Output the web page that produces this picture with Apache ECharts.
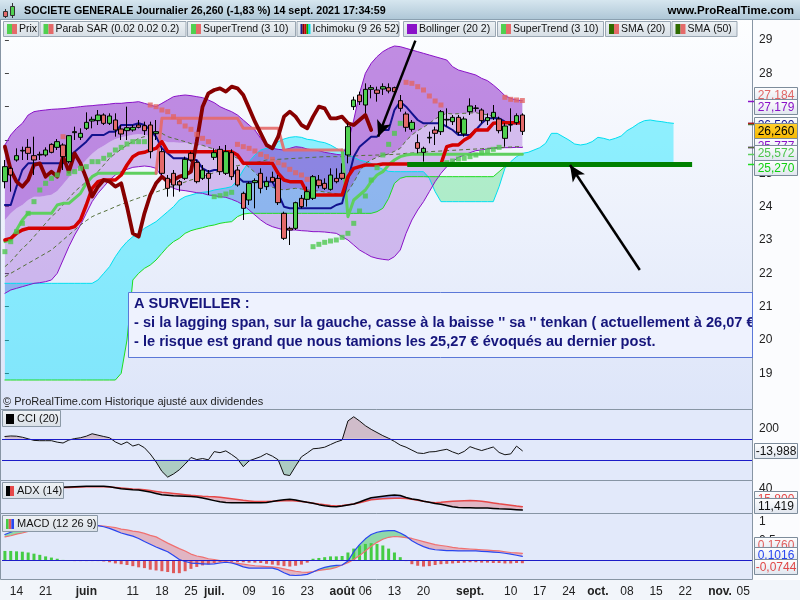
<!DOCTYPE html>
<html><head><meta charset="utf-8"><title>SOCIETE GENERALE</title>
<script src="https://cdn.jsdelivr.net/npm/echarts/dist/echarts.min.js"></script>
<style>html,body{margin:0;padding:0;background:#fff;}#chart{width:800px;height:600px;}</style>
</head><body><div id="chart"></div>
<script>
// ---------------- axis categories : trading days 12 May 2021 -> 8 Nov 2021 ----------------
const N_DAYS = 129;
const categories = [];
(function(){const d=new Date(Date.UTC(2021,4,12));while(categories.length<N_DAYS){const w=d.getUTCDay();if(w!==0&&w!==6)categories.push(d.toISOString().slice(0,10));d.setUTCDate(d.getUTCDate()+1);}})();
const tickIndex = [2,7,14,22,27,32,36,42,47,52,58,62,67,72,80,87,92,97,102,107,112,117,123,127];
const tickText  = ['14','21','juin','11','18','25','juil.','09','16','23','août','06','13','20','sept.','10','17','24','oct.','08','15','22','nov.','05'];
const tickBold  = ['juin','juil.','août','sept.','oct.','nov.'];

// ---------------- price candles [open, close, low, high] ----------------
const candles = [
[24.75,25.2,24.55,25.4],[25.15,24.95,24.45,25.2],[25.4,25.53,25.35,25.75],[25.67,25.69,25.4,25.8],[25.78,25.6,25.4,26.03],
[25.53,25.4,24.95,26.1],[25.55,25.57,25.4,25.65],[25.55,25.7,25.5,25.78],[25.87,25.63,25.6,25.9],[25.78,25.95,25.7,26.03],
[25.85,25.5,25.1,25.9],[25.35,26.13,25.3,26.15],[26.22,26.25,26.0,26.4],[26.08,26.2,26.0,26.35],[26.35,26.53,26.3,26.83],
[26.57,26.62,26.35,26.7],[26.58,26.75,26.45,26.9],[26.75,26.5,26.45,26.8],[26.5,26.72,26.45,26.8],[26.6,26.3,26.1,26.8],
[26.33,26.18,26.0,26.45],[26.28,26.37,26.0,27.0],[26.3,26.38,26.25,26.45],[26.45,26.38,26.35,26.6],[26.43,26.28,26.15,26.55],
[26.45,25.65,25.45,26.55],[26.2,26.25,26.0,26.6],[25.65,25.0,24.95,25.75],[24.85,24.55,24.3,24.95],[25.0,24.65,24.3,25.1],
[24.75,24.65,24.45,24.8],[24.85,25.42,24.8,25.5],[25.6,25.4,25.35,25.65],[25.33,24.75,24.7,25.4],[24.85,25.1,24.8,25.25],
[25.0,24.85,24.35,25.1],[25.48,25.62,25.4,25.75],[25.72,25.05,24.95,25.82],[25.0,25.65,24.95,25.85],[25.62,24.9,24.8,25.72],
[25.1,24.65,24.6,25.2],[24.4,23.95,23.6,24.45],[24.2,24.7,24.05,24.75],[24.72,24.78,23.95,24.85],[25.0,24.55,24.4,25.15],
[24.6,24.75,24.5,24.9],[24.88,24.75,24.7,25.05],[24.85,24.12,24.05,24.95],[23.8,23.05,23.0,23.85],[23.35,23.3,22.85,23.4],
[23.35,24.12,23.3,24.15],[24.25,24.0,23.95,24.35],[24.22,24.45,24.0,24.6],[24.25,24.9,24.2,24.95],[24.8,24.63,24.55,24.95],
[24.7,24.55,24.5,24.85],[24.52,24.95,24.48,25.15],[24.85,24.75,24.7,25.15],[25.0,24.85,24.8,25.3],[25.55,26.4,25.3,26.5],
[27.0,27.2,26.9,27.3],[27.35,27.15,27.05,27.45],[27.05,27.52,26.8,27.7],[27.52,27.57,27.25,27.65],[27.5,27.4,27.15,27.6],
[27.53,27.6,27.35,27.7],[27.57,27.47,27.4,27.7],[27.57,27.45,27.4,27.6],[27.18,26.95,26.85,27.35],[26.78,26.38,26.25,26.85],
[26.32,26.53,26.25,26.6],[25.92,25.75,25.6,26.17],[25.63,25.75,25.35,25.8],[26.06,26.08,25.9,26.25],[26.3,26.2,25.85,26.4],
[26.25,26.85,26.15,26.9],[26.6,26.62,26.4,26.95],[26.55,26.68,26.45,26.75],[26.68,26.23,26.15,26.75],[26.18,26.63,26.1,26.7],
[26.85,27.02,26.75,27.25],[26.95,26.96,26.85,27.05],[26.9,26.58,26.5,26.95],[26.58,26.67,26.45,26.8],[26.68,26.83,26.6,27.05],
[26.63,26.28,26.2,26.7],[26.05,26.42,25.8,26.5],[26.45,26.46,26.25,26.95],[26.52,26.73,26.45,26.8],[26.75,26.26,26.15,26.8]
];

function run(v,n){return Array(n).fill(v);}

// ---------------- Ichimoku ----------------
const tenkan = [23.0,23.05,23.2,23.3,23.35,23.35,23.35,23.35,23.35,23.35,23.35,23.35,23.4,23.6,24.05,24.55,24.75,24.8,24.8,24.8,
24.95,25.25,25.5,25.6,25.63,25.7,25.75,25.95,25.65,25.65,25.65,25.65,25.65,25.65,25.65,25.65,25.65,25.65,25.65,25.65,
25.55,25.3,25.3,25.3,25.3,25.3,25.3,25.0,24.8,24.75,24.75,24.75,24.4,24.35,24.35,24.35,24.35,24.35,24.35,24.9,
25.15,25.2,25.25,25.25,25.25,25.28,25.28,25.28,25.28,25.28,25.28,25.28,25.28,25.28,25.28,25.28,25.8,25.85,25.85,26.0,
26.1,26.3,26.3,26.3,26.5,26.52,26.52,26.52,26.52,26.52];
const kijun = [24.05,24.05,24.6,25.1,25.3,25.3,25.3,25.3,25.3,25.3,25.3,25.5,25.65,25.8,25.95,26.15,26.15,26.15,26.25,26.25,
26.45,26.45,26.45,26.5,26.45,26.3,26.1,25.75,25.6,25.45,25.45,25.45,25.4,25.4,25.15,25.05,25.1,25.1,25.1,25.15,
24.9,24.75,24.75,24.75,24.75,24.75,24.75,24.4,24.0,23.95,23.95,23.95,23.95,23.95,23.95,23.95,23.95,24.05,24.1,24.8,
25.5,25.8,25.95,26.1,26.1,26.3,26.3,26.9,27.15,27.0,26.8,26.6,26.5,26.5,26.5,26.5,26.4,26.3,26.15,26.15,
26.15,26.3,26.5,26.65,26.65,26.65,26.55,26.5,26.5,26.5];
const chikou = [25.8,25.1,24.75,24.6,24.8,25.25,25.3,24.9,25.05,24.9,25.5,25.05,25.6,25.3,24.85,24.3,24.6,24.8,24.75,24.6,
24.7,24.0,23.2,23.1,23.8,24.35,24.7,24.9,24.75,24.8,24.9,24.95,25.05,25.95,27.0,27.4,27.5,27.55,27.45,27.6,
27.55,27.35,26.95,26.55,26.2,25.85,25.75,26.1,26.7,26.85,26.7,26.45,26.35,26.7,27.0,26.95,26.65,26.65,26.7,26.5,
26.45,26.6,26.75,26.3];
const senkouA = [].concat(run(21.7,16),[21.8,22.0,22.2,22.5,22.75,22.95,23.1,23.2,23.35,23.45,23.55,23.7,23.85,24.0,24.2,24.3,24.35,24.4,24.43,24.45,
24.5,24.53,24.56,24.6,24.8,25.1,25.35,25.55,25.7,25.75,25.8,25.95,26.03,26.08,26.1,26.08,26.02,26.0,25.95,25.92,
25.85,25.75,25.65,25.55,25.48,25.4,25.35,25.3,25.2,25.12,25.06],run(25.05,6),[24.85,24.45,24.15],run(24.15,9),
[24.6,25.15,25.35,25.5,25.6,25.63,25.7,25.77,25.9,26.2,26.2,26.1,26.0,25.88,25.85,25.88,25.95,26.08,26.05,26.0,
26.05,26.12,26.28,26.38,26.5,26.58,26.6,26.57,26.55,26.52,26.5]);
const senkouB = [].concat(run(18.8,20),[19.0,20.0,21.8,22.0,22.15,22.25,22.4,22.6,22.8,22.95,23.05,23.2,23.28,23.33,23.37,23.42,23.45,23.5,23.53,23.55,23.7,23.78],
run(23.8,22),[23.85,23.95,24.25,24.7,24.85],run(24.9,16),[25.05,25.2],run(25.3,29));

// ---------------- Bollinger (20 2), SMA ----------------
const bbUpper = [25.85,26.15,26.35,26.5,26.75,26.85,26.88,26.9,26.92,26.93,26.94,26.96,26.98,27.0,27.02,27.03,27.05,27.06,27.08,27.1,
27.1,27.12,27.13,27.15,27.1,27.05,27.0,27.1,27.2,27.3,27.33,27.35,27.33,27.3,27.27,27.2,27.12,27.0,26.92,26.85,
26.75,26.6,26.45,26.3,26.05,25.82,25.75,25.72,25.7,25.75,25.8,25.78,25.73,25.7,25.68,25.63,25.6,25.57,25.55,25.9,
26.6,27.4,28.0,28.3,28.5,28.65,28.75,28.82,28.8,28.75,28.7,28.65,28.6,28.55,28.5,28.45,28.4,28.2,28.1,28.05,
28.0,27.95,27.85,27.78,27.65,27.5,27.33,27.25,27.2,27.179];
const bbLower = [21.4,21.5,21.55,21.6,21.65,21.7,21.72,21.75,21.8,22.0,22.4,22.8,23.15,23.45,23.8,24.15,24.4,24.6,24.8,24.95,
25.05,25.12,25.18,25.2,25.22,25.2,25.15,24.9,24.65,24.55,24.5,24.48,24.45,24.42,24.4,24.35,24.33,24.3,24.28,24.22,
24.15,24.05,23.9,23.75,23.6,23.48,23.4,23.35,23.3,23.3,23.3,23.28,23.27,23.25,23.25,23.24,23.22,23.2,23.1,23.0,
22.85,22.7,22.6,22.5,22.45,22.42,22.4,22.5,22.7,23.2,23.6,23.9,24.15,24.45,24.75,25.0,25.2,25.35,25.48,25.55,
25.62,25.68,25.7,25.73,25.75,25.76,25.77,25.77,25.78,25.777];
const bbMid = [23.6,23.8,23.95,24.05,24.2,24.3,24.3,24.33,24.36,24.47,24.67,24.88,25.07,25.23,25.41,25.59,25.73,25.83,25.94,26.03,
26.08,26.12,26.16,26.18,26.16,26.13,26.08,26.0,25.93,25.93,25.92,25.92,25.89,25.86,25.84,25.78,25.73,25.65,25.6,25.54,
25.45,25.33,25.18,25.03,24.83,24.65,24.58,24.54,24.5,24.53,24.55,24.53,24.5,24.48,24.47,24.44,24.41,24.39,24.33,24.45,
24.73,25.05,25.3,25.4,25.48,25.54,25.58,25.66,25.75,25.98,26.15,26.28,26.38,26.5,26.63,26.73,26.8,26.78,26.79,26.8,
26.81,26.82,26.78,26.76,26.7,26.63,26.55,26.51,26.49,26.48];
const sma20 = [22.2,22.35,22.55,22.75,22.9,23.1,23.3,23.5,23.7,23.85,24.05,24.25,24.45,24.6,24.75,24.9,25.05,25.25,25.45,25.6,
25.72,25.85,25.95,26.05,26.1,26.15,26.18,26.2,26.1,26.05,26.0,25.95,25.89,25.86,25.84,25.78,25.73,25.65,25.6,25.54,
25.45,25.33,25.18,25.03,24.83,24.65,24.58,24.54,24.5,24.53,24.55,24.53,24.5,24.48,24.47,24.44,24.41,24.39,24.33,24.45,
24.73,25.05,25.3,25.4,25.48,25.54,25.58,25.66,25.75,25.98,26.15,26.28,26.38,26.5,26.63,26.73,26.8,26.78,26.79,26.8,
26.81,26.82,26.78,26.76,26.7,26.63,26.55,26.51,26.49,26.48];
const sma50 = [21.9,22.0,22.1,22.2,22.3,22.4,22.5,22.6,22.7,22.85,23.0,23.15,23.3,23.45,23.58,23.7,23.78,23.85,23.92,24.0,
24.07,24.13,24.2,24.26,24.32,24.38,24.44,24.5,24.56,24.62,24.68,24.74,24.8,24.85,24.9,24.96,25.02,25.08,25.14,25.2,
25.23,25.26,25.29,25.32,25.36,25.4,25.41,25.42,25.43,25.44,25.45,25.46,25.47,25.48,25.49,25.5,25.5,25.5,25.5,25.51,
25.52,25.53,25.54,25.54,25.55,25.55,25.56,25.57,25.58,25.6,25.61,25.62,25.63,25.65,25.66,25.67,25.68,25.69,25.7,25.71,
25.72,25.73,25.74,25.75,25.76,25.77,25.78,25.79,25.8,25.8];

// ---------------- Parabolic SAR & SuperTrend ----------------
const sar = [22.65,22.95,23.25,23.5,23.8,24.15,24.5,24.7,24.85,24.95,26.1,25.0,25.05,25.15,25.2,25.35,25.35,25.45,25.55,25.7,
25.78,25.88,25.95,25.95,25.95,27.05,27.0,26.9,26.85,26.7,26.55,26.42,26.32,26.17,26.05,25.95,24.3,24.33,24.38,24.43,
25.87,25.8,25.75,25.67,25.57,25.5,25.42,25.32,25.25,25.12,25.02,24.95,24.82,22.8,22.87,22.93,22.97,23.0,23.08,23.2,
23.5,23.87,24.32,24.8,25.17,25.55,25.87,26.2,26.5,27.73,27.7,27.6,27.5,27.32,27.17,27.05,25.32,25.37,25.43,25.45,
25.5,25.55,25.62,25.67,25.72,25.78,27.28,27.22,27.2,27.184];
const sarSide = 'GGGGGGGGGG'+'R'+'GGGGGGGGGGGGGG'+'RRRRRRRRRRR'+'GGGG'+'RRRRRRRRRRRRR'+'GGGGGGGGGGGGGGGG'+'RRRRRRR'+'GGGGGGGGGG'+'RRRR';
const stGreen = [].concat([22.95,23.0,23.3,23.6,23.8,23.8,23.8,23.8,23.8,24.05,24.1,24.1,24.25,24.4,24.7,24.9],run(25.0,11),run(null,31),
[25.7,23.7,24.2,24.35,24.5,24.75,24.95,25.05,25.25,25.4,25.5,25.55],run(25.572,20));
const stRed = [].concat(run(null,26),[25.0],run(26.65,14),run(26.35,7),run(25.7,11),run(null,31));

// ---------------- drawings ----------------
const supportLevel = 25.27;
const supportSpan = [69.2, 118.2];
const arrowDown = [[70.6,28.98],[64.2,26.1]];
const arrowUp = [[109.2,22.1],[97.2,25.25]];

// ---------------- CCI (20) ----------------
const cci = [122,127,125,115,100,85,82,82,82,68,60,88,102,110,125,148,135,122,110,70,
45,70,31,47,15,-45,-120,-210,-265,-235,-195,-140,-78,-98,-88,-100,-22,-32,-15,-50,
-90,-165,-110,-90,-70,-40,-65,-100,-240,-250,-160,-72,-35,5,10,20,45,70,88,270,
310,270,225,190,160,130,105,75,40,20,-8,-35,-40,-25,-22,-10,0,-25,-45,-20,
25,5,-12,5,22,-30,-52,-44,30,-13.988];

// ---------------- ADX (14) ----------------
const adxBlack = [39,39.3,39.5,39.7,40,40.3,40.6,40.9,41.1,41.3,41.5,41.8,42.2,42.5,42.7,42.8,42.8,42.6,42.0,40.8,
39.5,38.8,38.2,37.8,36.5,35,33.2,31.5,30.8,30.2,29.8,29.4,29.1,28.6,27.2,25.5,23.8,22.2,21.4,21.1,
21.1,21.1,21.1,21.1,21.1,21.3,22.5,24,25,25.5,24.5,23,21.5,20.3,18.5,17,16,15.8,16.8,18,
19.3,22,25,27.5,28.5,29.5,30.5,31.2,30.5,28,26,24.8,23,21.5,20,19,17.5,15.8,14.8,14.4,
14.3,14.2,14.1,14,13.5,13,12.7,12.3,11.9,11.419];
const adxRed = [39.5,39.8,40,40.2,40.4,40.5,40.6,40.7,40.8,40.9,41,41.2,41.5,41.7,41.9,42,42.2,42.1,41.7,41.1,
40.5,39.8,39.2,38.8,38,37,35.8,34.7,34,33.2,32.4,31.6,30.8,30.2,29.6,29.2,29,28.2,27.2,26.2,
25.2,24.2,23.4,22.7,22.5,22.6,23,23.4,23.7,23.8,23.3,22.5,21.5,20.4,19.3,18.4,17.4,16.8,17.5,18.5,
19.3,21,23,24.8,25.5,26.2,26.7,26.9,26.9,26.5,25.5,24.3,23,21.8,21.1,21.5,22.2,22.8,23.3,23.7,
23.8,23.6,23,22,20.8,19.6,18.6,17.6,16.6,15.8];

// ---------------- MACD (12 26 9) ----------------
const macd = [0.66,0.72,0.77,0.82,0.86,0.9,0.93,0.95,0.96,0.96,0.95,0.94,0.93,0.92,0.91,0.9,0.89,0.86,0.82,0.76,
0.7,0.66,0.62,0.56,0.48,0.41,0.34,0.28,0.22,0.12,0.02,-0.03,-0.07,-0.08,-0.09,-0.1,-0.09,-0.07,-0.05,-0.07,
-0.11,-0.17,-0.2,-0.2,-0.2,-0.2,-0.2,-0.24,-0.32,-0.38,-0.39,-0.38,-0.36,-0.3,-0.23,-0.18,-0.15,-0.13,-0.12,-0.02,
0.22,0.4,0.55,0.66,0.72,0.75,0.76,0.76,0.7,0.62,0.5,0.42,0.35,0.3,0.27,0.26,0.25,0.25,0.24,0.24,
0.24,0.24,0.23,0.22,0.21,0.2,0.18,0.16,0.13,0.1016];
const macdSignal = [0.6,0.63,0.67,0.7,0.74,0.77,0.8,0.83,0.85,0.87,0.89,0.9,0.9,0.9,0.9,0.9,0.89,0.88,0.86,0.84,
0.8,0.78,0.75,0.73,0.69,0.64,0.6,0.52,0.44,0.37,0.3,0.24,0.16,0.11,0.08,0.04,0.02,-0.01,-0.03,-0.06,
-0.08,-0.1,-0.12,-0.14,-0.15,-0.16,-0.17,-0.19,-0.22,-0.25,-0.28,-0.3,-0.31,-0.29,-0.26,-0.24,-0.22,-0.18,-0.12,-0.06,
0.02,0.12,0.24,0.36,0.46,0.54,0.59,0.61,0.6,0.58,0.56,0.52,0.48,0.44,0.4,0.38,0.36,0.33,0.31,0.3,
0.29,0.28,0.27,0.26,0.25,0.24,0.22,0.2,0.19,0.176];
const macdHist = [0.24,0.24,0.23,0.22,0.2,0.17,0.14,0.1,0.07,0.04,0.01,-0.01,-0.02,-0.02,-0.02,-0.02,-0.02,-0.03,-0.05,-0.08,
-0.1,-0.12,-0.15,-0.18,-0.2,-0.24,-0.26,-0.28,-0.3,-0.33,-0.33,-0.28,-0.22,-0.17,-0.13,-0.1,-0.07,-0.05,-0.04,-0.04,
-0.05,-0.05,-0.06,-0.06,-0.07,-0.09,-0.11,-0.13,-0.15,-0.16,-0.14,-0.11,-0.06,0.04,0.06,0.08,0.1,0.1,0.11,0.2,
0.3,0.38,0.42,0.44,0.42,0.38,0.3,0.2,0.08,-0.02,-0.1,-0.14,-0.16,-0.15,-0.12,-0.1,-0.09,-0.08,-0.07,-0.06,
-0.05,-0.05,-0.06,-0.06,-0.07,-0.07,-0.08,-0.08,-0.07,-0.0744];

// ---------------- chart ----------------
const FONT = '"Liberation Sans", Arial, sans-serif';
const chart = echarts.init(document.getElementById('chart'), null, {renderer:'canvas', width:800, height:600});
const GL = 2, GW = 750;
const grids = [
  {left:GL, width:GW, top:40, height:366.6667},
  {left:GL, width:GW, top:407.3, height:73.5},
  {left:GL, width:GW, top:480.7, height:38},
  {left:GL, width:GW, top:501.8, height:78}
];
function xCat(i){
  const a = {type:'category', gridIndex:i, data:categories, boundaryGap:true,
    axisLine:{show:false}, axisTick:{show:false}, splitLine:{show:false}, axisLabel:{show:false}};
  if(i===3){
    a.axisLabel = {show:true, interval:0, margin:6, fontSize:12, color:'#222', fontFamily:FONT,
      formatter:function(v,idx){const j=tickIndex.indexOf(idx); if(j<0) return ''; const t=tickText[j]; return tickBold.indexOf(t)>=0 ? '{b|'+t+'}' : t;},
      rich:{b:{fontWeight:'bold', fontSize:12, color:'#222', fontFamily:FONT}}};
  }
  return a;
}
function yAx(i,min,max,interval,show,ticks){
  return {type:'value', gridIndex:i, position:'right', min, max, interval, scale:false,
    axisLine:{show:false}, splitLine:{show:false},
    axisTick:{show:ticks, length:4, lineStyle:{color:'#444'}},
    axisLabel:{margin:7, fontSize:12, color:'#222', fontFamily:FONT, formatter:function(v){return show(v);}}};
}
const noAnim = {silent:true, animation:false};
function bandBase(data, stack, xi, yi, extra){
  return Object.assign({type:'line', data, stack, xAxisIndex:xi, yAxisIndex:yi, symbol:'none', lineStyle:{width:0, opacity:0}, z:1}, noAnim, extra||{});
}
function band(data, stack, color, xi, yi, extra){
  return Object.assign(bandBase(data, stack, xi, yi, extra), {areaStyle:{color, opacity:1}});
}
function ln(data, color, width, xi, yi, extra){
  return Object.assign({type:'line', data, xAxisIndex:xi, yAxisIndex:yi, symbol:'none', lineStyle:{color, width, cap:'round', join:'round'}, z:2}, noAnim, extra||{});
}

// fill helpers (library table construction)
const cloudLo = senkouA.map((a,i)=>Math.min(a, senkouB[i]));
const cloudUp = senkouA.map((a,i)=>Math.max(a - senkouB[i], 0));
const cloudDn = senkouA.map((a,i)=>Math.max(senkouB[i] - a, 0));
const bbLowHalf = bbMid.map((m,i)=>m - bbLower[i]);
const bbUpHalf = bbUpper.map((u,i)=>u - bbMid[i]);
const adxLo = adxBlack.map((b,i)=>Math.min(b, adxRed[i]));
const adxBlueBand = adxBlack.map((b,i)=>Math.max(b - adxRed[i], 0));
const adxPinkBand = adxBlack.map((b,i)=>Math.max(adxRed[i] - b, 0));
const macdLo = macd.map((m,i)=>Math.min(m, macdSignal[i]));
const macdGreenBand = macd.map((m,i)=>Math.max(m - macdSignal[i], 0));
const macdPinkBand = macd.map((m,i)=>Math.max(macdSignal[i] - m, 0));

const series = [
  // Ichimoku cloud
  bandBase(cloudLo, 'cloud', 0, 0),
  band(cloudUp, 'cloud', 'rgba(0,228,255,0.42)', 0, 0),
  band(cloudDn, 'cloud', 'rgba(60,225,110,0.36)', 0, 0),
  ln(senkouA, '#00dff0', 1, 0, 0),
  ln(senkouB, '#1fdc1f', 1, 0, 0),
  // Bollinger band
  bandBase(bbLower, 'bb', 0, 0),
  band(bbLowHalf, 'bb', 'rgba(150,70,210,0.33)', 0, 0),
  band(bbUpHalf, 'bb', 'rgba(140,40,200,0.53)', 0, 0),
  ln(bbUpper, '#8a12c8', 1, 0, 0),
  ln(bbLower, '#8a12c8', 1, 0, 0),
  ln(sma50, '#55703a', 1, 0, 0, {lineStyle:{color:'#55703a', width:1, type:[4,3]}}),
  ln(sma20, '#55703a', 1, 0, 0, {lineStyle:{color:'#55703a', width:1, type:[4,3]}}),
  // SuperTrend
  ln(stGreen, '#5fcf5f', 3, 0, 0),
  ln(stRed, 'rgba(230,105,105,0.9)', 3, 0, 0),
  // Ichimoku lines
  ln(kijun, '#12128e', 2, 0, 0),
  ln(tenkan, '#d40000', 3.5, 0, 0),
  ln(chikou, '#870000', 3.8, 0, 0),
  // candles
  Object.assign({type:'candlestick', data:candles, xAxisIndex:0, yAxisIndex:0, barWidth:5, z:3,
    itemStyle:{color:'#50d050', color0:'#e46a6a', borderColor:'#000', borderColor0:'#000', borderWidth:1}}, noAnim),
  // Parabolic SAR
  Object.assign({type:'scatter', xAxisIndex:0, yAxisIndex:0, symbol:'rect', symbolSize:5, z:4,
    data: sar.map((v,i)=> sarSide[i]==='G' ? v : '-'), itemStyle:{color:'#4ec84e'}}, noAnim),
  Object.assign({type:'scatter', xAxisIndex:0, yAxisIndex:0, symbol:'rect', symbolSize:5, z:4,
    data: sar.map((v,i)=> sarSide[i]==='R' ? v : '-'), itemStyle:{color:'#e26464'}}, noAnim),
  // drawings (support line + arrows)
  Object.assign({type:'line', xAxisIndex:4, yAxisIndex:0, data:[[-10,0]], symbol:'none', z:6, lineStyle:{opacity:0},
    markLine:{silent:true, animation:false, label:{show:false}, symbol:['none','none'],
      data:[
        [{coord:[supportSpan[0], supportLevel], lineStyle:{color:'#008000', width:5, type:'solid'}}, {coord:[supportSpan[1], supportLevel]}],
        [{coord:arrowDown[0], symbol:'none', lineStyle:{color:'#000', width:2.5, type:'solid'}}, {coord:arrowDown[1], symbol:'arrow', symbolSize:[11,16]}],
        [{coord:arrowUp[0], symbol:'none', lineStyle:{color:'#000', width:2.5, type:'solid'}}, {coord:arrowUp[1], symbol:'arrow', symbolSize:[11,16]}]
      ]}}, noAnim),

  // CCI
  Object.assign({type:'line', data:cci.map(v=>Math.max(v,100)), xAxisIndex:1, yAxisIndex:1, symbol:'none', lineStyle:{opacity:0, width:0},
    areaStyle:{origin:100, color:'rgba(170,90,100,0.45)'}, z:1}, noAnim),
  Object.assign({type:'line', data:cci.map(v=>Math.min(v,-100)), xAxisIndex:1, yAxisIndex:1, symbol:'none', lineStyle:{opacity:0, width:0},
    areaStyle:{origin:-100, color:'rgba(60,140,80,0.45)'}, z:1}, noAnim),
  ln(cci, '#111', 1, 1, 1, {markLine:{silent:true, animation:false, symbol:['none','none'], label:{show:false},
    lineStyle:{color:'#1c1cc8', width:1, type:'solid'}, data:[{yAxis:100},{yAxis:-100}]}}),

  // ADX
  bandBase(adxLo, 'adx', 2, 2),
  band(adxBlueBand, 'adx', 'rgba(90,90,210,0.55)', 2, 2),
  band(adxPinkBand, 'adx', 'rgba(225,120,130,0.45)', 2, 2),
  ln(adxRed, '#e64848', 1.5, 2, 2),
  ln(adxBlack, '#000', 1.5, 2, 2),

  // MACD
  Object.assign({type:'bar', data:macdHist, xAxisIndex:3, yAxisIndex:3, barWidth:3, z:1,
    itemStyle:{color:function(p){return p.value>=0 ? '#44cc44' : '#e05a5a';}}}, noAnim),
  bandBase(macdLo, 'macd', 3, 3, {stackStrategy:'all'}),
  band(macdGreenBand, 'macd', 'rgba(60,200,90,0.5)', 3, 3, {stackStrategy:'all'}),
  band(macdPinkBand, 'macd', 'rgba(225,110,120,0.42)', 3, 3, {stackStrategy:'all'}),
  ln(macdSignal, '#f07070', 1.2, 3, 3),
  ln(macd, '#2846f0', 1.2, 3, 3, {markLine:{silent:true, animation:false, symbol:['none','none'], label:{show:false},
    lineStyle:{color:'#1c1cc8', width:1.2, type:'solid'}, data:[{yAxis:0}]}})
];

chart.setOption({
  animation:false,
  backgroundColor:'#ffffff',
  textStyle:{fontFamily:FONT},
  grid:grids,
  xAxis:[xCat(0), xCat(1), xCat(2), xCat(3), {type:'value', gridIndex:0, min:-0.5, max:N_DAYS-0.5, show:false}],
  yAxis:[
    yAx(0, 18, 29, 1, v=> v===18 ? '' : String(v), true),
    yAx(1, -300, 400, 100, v=> v===200 ? '200' : '', false),
    yAx(2, 0, 50, 10, v=> v===40 ? '40' : '', false),
    yAx(3, -0.5, 1.5, 0.5, v=> (v===1 ? '1' : (v===0.5 ? '0.5' : '')), false)
  ],
  series:series
});

// ---------------- decorations (panels, header, legend, tags, annotation) ----------------
const G = [];
const lg = (c0,c1)=> new echarts.graphic.LinearGradient(0,0,0,1,[{offset:0,color:c0},{offset:1,color:c1}]);
function rect(x,y,w,h,fill,stroke,z){G.push({type:'rect', z:z, silent:true, shape:{x,y,width:w,height:h}, style:{fill:fill, stroke:stroke||null, lineWidth:1}});}
function text(x,y,t,font,fill,align,z,extra){G.push({type:'text', z:z, silent:true, style:Object.assign({x,y,text:t,font:font,fill:fill,align:align||'left',textAlign:align||'left',verticalAlign:'middle',textVerticalAlign:'middle'}, extra||{})});}

// backgrounds
rect(752.5,19.5,47,560,'#fbfcfe',null,-20);
rect(0.5,19.5,752,390,lg('#fdfeff','#dde5f9'),'#8795a4',-10);
rect(0.5,409.5,752,71,'#e2e9fa','#8795a4',-10);
rect(0.5,480.5,752,33,'#e2e9fa','#8795a4',-10);
rect(0.5,513.5,752,66,'#e2e9fa','#8795a4',-10);
rect(0,580,800,20,'#f2f5fa',null,-20);
// header
rect(0,0,800,20,lg('#d6e6ef','#adc6d6'),null,50);
G.push({type:'line', z:51, silent:true, shape:{x1:0,y1:19.5,x2:800,y2:19.5}, style:{stroke:'#8aa0b0', lineWidth:1}});
// candle icon
G.push({type:'line', z:52, silent:true, shape:{x1:5.5,y1:9,x2:5.5,y2:18}, style:{stroke:'#333', lineWidth:1}});
rect(3.5,11.5,4,5,'#e46a6a','#333',53);
G.push({type:'line', z:52, silent:true, shape:{x1:12.5,y1:3,x2:12.5,y2:18}, style:{stroke:'#333', lineWidth:1}});
rect(10.5,6.5,4,9,'#50d050','#333',53);
text(24,11,'SOCIETE GENERALE Journalier 26,260 (-1,83 %) 14 sept. 2021 17:34:59','bold 10.7px '+FONT,'#000','left',55);
text(794,11,'www.ProRealTime.com','bold 11.5px '+FONT,'#000','right',55);
// legend row
const legendItems = [
  [3,35,'Prix',['#50d050','#e46a6a']],
  [39.5,146,'Parab SAR (0.02 0.02 0.2)',['#50d050','#e46a6a']],
  [187,108,'SuperTrend (3 10)',['#50d050','#e46a6a']],
  [296.5,102,'Ichimoku (9 26 52)',['#1a1a8a','#880000','#d00000','#00aa00','#00e0f0']],
  [403,92,'Bollinger (20 2)',['#8a12c8']],
  [497,106,'SuperTrend (3 10)',['#50d050','#e46a6a']],
  [605,65,'SMA (20)',['#2f6b00','#e46a6a']],
  [671.5,65,'SMA (50)',['#2f6b00','#e46a6a']]
];
legendItems.forEach(function(it){
  rect(it[0]+0.5,21.5,it[1],15,lg('#eef2f5','#d6dee5'),'#9aa7b3',55);
  const cols = it[3], iw = 10/cols.length;
  cols.forEach(function(c,k){ rect(it[0]+4+k*iw,24,iw,10,c,null,56); });
  text(it[0]+16,29.5,it[2],'10.5px '+FONT,'#111','left',57);
});
// watermark
text(3,402,'\u00a9 ProRealTime.com Historique ajust\u00e9 aux dividendes','11px '+FONT,'#222','left',20);
// sub-panel labels
function panelLabel(y,w,t,cols){
  rect(2.5,y+0.5,w,16,lg('#f0f3f6','#d9e0e7'),'#8a98a6',30);
  const iw = 8/cols.length;
  cols.forEach(function(c,k){ rect(6+k*iw,y+4,iw,10,c,null,31); });
  text(17,y+9,t,'11px '+FONT,'#111','left',32);
}
panelLabel(410,58,'CCI (20)',['#000']);
panelLabel(482,61,'ADX (14)',['#000','#e64848']);
panelLabel(515,95,'MACD (12 26 9)',['#44cc44','#e05a5a','#2846f0']);
// annotation box (text clipped at the price-axis edge)
rect(128.5,292.5,624,65,'#eef2fe','#5b78d8',40);
const annFont = 'bold 14.6px '+FONT, annCol = '#16167c';
text(134,304,'A SURVEILLER :',annFont,annCol,'left',41);
text(134,323,"- si la lagging span, sur la gauche, casse \u00e0 la baisse '' sa '' tenkan ( actuellement \u00e0 26,07 \u20ac",annFont,annCol,'left',41);
text(134,341.5,'- le risque est grand que nous tamions les 25,27 \u20ac \u00e9voqu\u00e9s au dernier post.',annFont,annCol,'left',41);
rect(753,313,47,20,'#fbfcfe',null,45);
G.push({type:'line', z:46, silent:true, shape:{x1:752.5,y1:292,x2:752.5,y2:358}, style:{stroke:'#5b78d8', lineWidth:1}});

// value tags on right axis
function yPix(axis, v){ return chart.convertToPixel({yAxisIndex:axis}, v); }
let tz = 100;
function tag(axis, v, shift, label, color, bg){
  const y = Math.round(yPix(axis, v) + shift);
  rect(754.5, y-7.5, 43, 15, bg || lg('#ffffff','#dfe5ee'), '#7d8c9b', tz++);
  text(776, y+0.5, label, '12px '+FONT, color, 'center', tz++);
}
function mark(axis, v, color){ const y = Math.round(yPix(axis,v))+0.5; G.push({type:'line', z:90, silent:true, shape:{x1:748,y1:y,x2:755,y2:y}, style:{stroke:color, lineWidth:1.5}}); }
mark(0,27.179,'#8a12c8'); mark(0,26.5,'#12128e'); mark(0,26.52,'#d40000'); mark(0,26.48,'#55703a');
mark(0,25.777,'#8a12c8'); mark(0,25.8,'#55703a'); mark(0,25.572,'#5fcf5f'); mark(0,25.27,'#1fdc1f');
tag(0, 27.184, -5.5, '27,184', '#e06666');
tag(0, 26.5, 2, '26,500', '#12128e');
tag(0, 27.179, 6.3, '27,179', '#8a12c8');
tag(0, 25.777, -1.4, '25,777', '#8a12c8');
tag(0, 26.26, 0, '26,260', '#000', lg('#ffd030','#f5b800'));
tag(0, 25.572, -1.3, '25,572', '#4cc44c');
tag(0, 25.27, 3.7, '25,270', '#10d010');
tag(1, -13.988, 0, '-13,988', '#111');
tag(2, 15.8, -7.7, '15,800', '#e64848');
tag(2, 11.419, -3.7, '11,419', '#111');
tag(3, 0.176, -8.4, '0,1760', '#e06060');
tag(3, 0.1016, -1.3, '0,1016', '#2846f0');
tag(3, -0.0744, 3.8, '-0,0744', '#e04848');

chart.setOption({graphic:{elements:G}});
</script></body></html>
